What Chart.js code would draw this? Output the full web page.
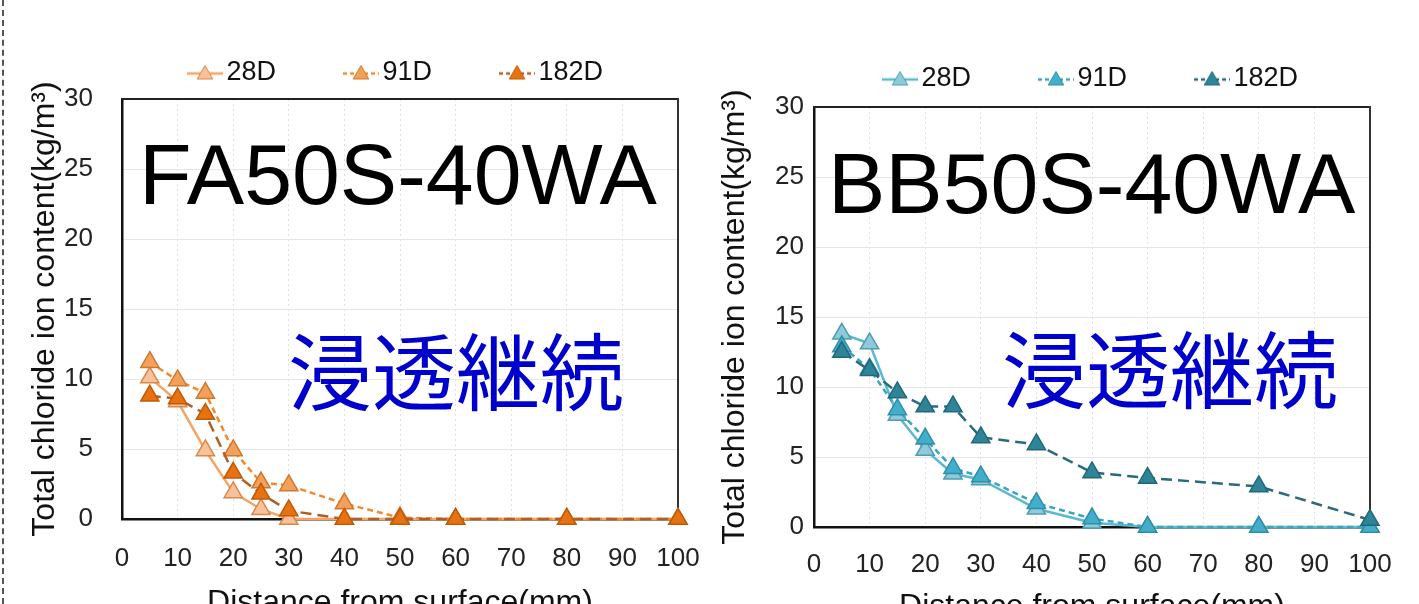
<!DOCTYPE html>
<html>
<head>
<meta charset="utf-8">
<script src="https://cdn.jsdelivr.net/npm/chart.js@4.4.1/dist/chart.umd.min.js"></script>
<style>
  html, body { margin: 0; padding: 0; width: 1419px; height: 604px; overflow: hidden; background: #fff; }
  canvas { position: absolute; }
  .frame-edge { position: absolute; left: 2px; top: 0; height: 604px; border-left: 2px dashed #555; }
  .mix { position: absolute; font-family: "Liberation Sans", Arial, sans-serif; font-size: 86px; line-height: 86px; color: #000; white-space: nowrap; }
  .note { position: absolute; font-family: "Noto Sans CJK JP", sans-serif; font-size: 84px; line-height: 84px; color: #0000cc; white-space: nowrap; }
</style>
</head>
<body>
<div class="frame-edge"></div>
<canvas id="chartFA" width="800" height="640" style="left:0px;top:-18px;width:800px;height:640px"></canvas>
<canvas id="chartBB" width="790" height="640" style="left:700px;top:-12px;width:790px;height:640px"></canvas>
<div class="mix" style="left:139px;top:131px">FA50S-40WA</div>
<div class="mix" style="left:828px;top:140px">BB50S-40WA</div>
<div class="note" style="left:288px;top:326px">浸透継続</div>
<div class="note" style="left:1002px;top:324px">浸透継続</div>
<script>
// --- data ---
const distance = [5, 10, 15, 20, 25, 30, 40, 50, 60, 80, 100];
const seriesNames = ['28D', '91D', '182D'];

const fa28 = [10.1, 8.4, 4.9, 1.9, 0.7, 0, 0, 0, 0, 0, 0];
const fa91 = [11.2, 9.9, 9.0, 4.9, 2.6, 2.4, 1.1, 0.1, 0, 0, 0];
const fa182 = [8.8, 8.6, 7.5, 3.3, 1.8, 0.6, 0, 0, 0, 0, 0];

const bb28 = [13.8, 13.1, 8.0, 5.5, 3.8, 3.4, 1.3, 0.3, 0, 0, 0];
const bb91 = [12.9, 11.3, 8.4, 6.3, 4.2, 3.6, 1.7, 0.6, 0, 0, 0];
const bb182 = [12.5, 11.2, 9.6, 8.6, 8.6, 6.4, 5.9, 3.9, 3.5, 2.9, 0.5];

const yTitle = 'Total chloride ion content(kg/m³)';
const xTitle = 'Distance from surface(mm)';

const FONT = '"Liberation Sans", Arial, sans-serif';
Chart.defaults.font.family = FONT;
Chart.defaults.color = '#111';

// styles per series: line colour, marker fill, marker edge, dash
const orangeStyles = [
    { line: '#f4a566', fill: '#f7c29a', edge: '#d8884a', dash: [] },
    { line: '#ef8a30', fill: '#f2a05a', edge: '#cf7830', dash: [6, 4] },
    { line: '#ad602a', fill: '#e8720f', edge: '#bf5c0a', dash: [11, 6] }
];
const tealStyles = [
    { line: '#5cbad0', fill: '#90cad8', edge: '#4f9db2', dash: [] },
    { line: '#3ba4bf', fill: '#42aecb', edge: '#2f8ea8', dash: [6, 4] },
    { line: '#2a6a7a', fill: '#2d8597', edge: '#22687a', dash: [11, 6] }
];

// small line + triangle swatch for the legend
function legendIcon(st) {
    const c = document.createElement('canvas');
    c.width = 36; c.height = 22;
    const g = c.getContext('2d');
    g.strokeStyle = st.line; g.lineWidth = 2.5;
    g.setLineDash(st.dash.length ? [4, 3] : []);
    g.beginPath(); g.moveTo(0, 12); g.lineTo(36, 12); g.stroke();
    g.setLineDash([]);
    const r = 9, cx = 18, cy = 13;
    g.beginPath();
    g.moveTo(cx, cy - r);
    g.lineTo(cx + 0.866 * r, cy + 0.5 * r);
    g.lineTo(cx - 0.866 * r, cy + 0.5 * r);
    g.closePath();
    g.fillStyle = st.fill; g.fill();
    g.strokeStyle = st.edge; g.lineWidth = 1; g.stroke();
    return c;
}

function makeDatasets(values, styles) {
    return values.map((vals, i) => ({
        label: seriesNames[i],
        data: distance.map((d, k) => ({ x: d, y: vals[k] })),
        borderColor: styles[i].line,
        borderWidth: 2.5,
        borderDash: styles[i].dash,
        pointStyle: 'triangle',
        pointRadius: 10.5,
        pointBackgroundColor: styles[i].fill,
        pointBorderColor: styles[i].edge,
        pointBorderWidth: 1.5,
        tension: 0,
        fill: false,
        clip: false,
        order: 3 - i
    }));
}

function buildChart(canvasId, datasets, styles, geo) {
    const icons = styles.map(legendIcon);
    return new Chart(document.getElementById(canvasId), {
        type: 'line',
        data: { datasets },
        options: {
            responsive: false,
            animation: false,
            layout: { padding: 0 },
            plugins: {
                tooltip: { enabled: false },
                legend: {
                    position: 'top',
                    labels: {
                        usePointStyle: true,
                        pointStyleWidth: 16,
                        padding: 77,
                        color: '#111',
                        font: { size: 27, family: FONT },
                        generateLabels: chart => chart.data.datasets.map((ds, i) => ({
                            text: ds.label,
                            pointStyle: icons[i],
                            datasetIndex: i,
                            hidden: false,
                            lineWidth: 0,
                            fontColor: '#111'
                        }))
                    }
                }
            },
            scales: {
                x: {
                    type: 'linear',
                    position: 'bottom',
                    min: 0, max: 100,
                    afterFit: s => { s.height = geo.xHeight; },
                    grid: { color: '#e0e0e0', lineWidth: 1, drawTicks: false },
                    border: { color: '#111', width: 2.5, dash: [2, 3] },
                    ticks: { stepSize: 10, padding: geo.xPad, color: '#222', font: { size: 26 } },
                    title: { display: true, text: xTitle, color: '#111', font: { size: 32 }, padding: { top: 0, bottom: geo.xTitlePad } }
                },
                y: {
                    type: 'linear',
                    position: 'left',
                    min: 0, max: 30,
                    afterFit: s => { s.width = geo.yWidth; },
                    grid: { color: '#e6e6e6', lineWidth: 1, drawTicks: false },
                    border: { color: '#111', width: 2.5 },
                    ticks: { stepSize: 5, padding: geo.yPad, color: '#222', font: { size: 26 } },
                    title: { display: true, text: yTitle, color: '#111', font: { size: 32 }, padding: { top: geo.yTitlePad, bottom: 0 } }
                },
                xTop: {
                    type: 'linear',
                    position: 'top',
                    afterFit: s => { s.height = geo.topGap; },
                    grid: { display: false },
                    ticks: { display: false },
                    border: { color: '#222', width: 2 }
                },
                yRight: {
                    type: 'linear',
                    position: 'right',
                    afterFit: s => { s.width = geo.rightWidth; },
                    grid: { display: false },
                    ticks: { display: false },
                    border: { color: '#333', width: 2 }
                }
            }
        }
    });
}

buildChart('chartFA', makeDatasets([fa28, fa91, fa182], orangeStyles), orangeStyles,
    { xHeight: 103, xPad: 24, xTitlePad: 0, yWidth: 122, yPad: 29, yTitlePad: 26, topGap: 3, rightWidth: 122 });

buildChart('chartBB', makeDatasets([bb28, bb91, bb182], tealStyles), tealStyles,
    { xHeight: 101, xPad: 22, xTitlePad: 2, yWidth: 114, yPad: 10, yTitlePad: 16, topGap: 5, rightWidth: 120 });
</script>
</body>
</html>
